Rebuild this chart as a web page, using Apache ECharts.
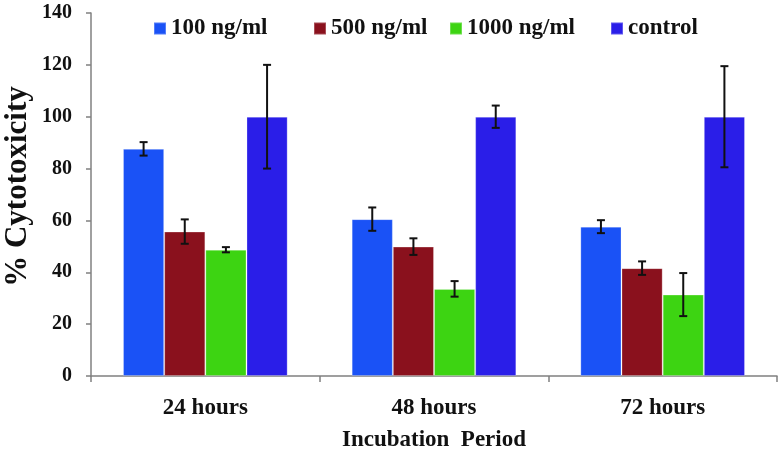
<!DOCTYPE html>
<html>
<head>
<meta charset="utf-8">
<script src="https://cdn.jsdelivr.net/npm/echarts@6/dist/echarts.min.js"></script>
<style>html,body{margin:0;padding:0;background:#fff}#c{width:782px;height:451px}</style>
</head>
<body>
<div id="c"></div>
<script>
const categories = ['24 hours', '48 hours', '72 hours'];
const seriesNames = ['100 ng/ml', '500 ng/ml', '1000 ng/ml', 'control'];
const v100 = [87.6, 60.5, 57.6];
const v500 = [55.7, 49.9, 41.6];
const v1000 = [48.7, 33.6, 31.4];
const vControl = [100, 100, 100];
const e100 = [2.6, 4.5, 2.5];
const e500 = [4.7, 3.2, 2.6];
const e1000 = [1.0, 3.0, 8.3];
const eControl = [20, 4.3, 19.5];
const yTicks = [0, 20, 40, 60, 80, 100, 120, 140];

const colors = ['#1a52f6', '#8a111d', '#3dd412', '#2a1ee8'];
const FONT = "'Liberation Serif', 'Times New Roman', serif";
const values = [v100, v500, v1000, vControl];
const errs = [e100, e500, e1000, eControl];
const CAT_GAP = 0.28;
const legendLefts = [153, 313, 449, 610];

const errData = [];
values.forEach((arr, s) => arr.forEach((v, c) => {
  errData.push([c, v - errs[s][c], v + errs[s][c], s]);
}));

const chart = echarts.init(document.getElementById('c'));
const series = seriesNames.map((n, i) => ({
  name: n, type: 'bar', data: values[i],
  barGap: '0%', barCategoryGap: (CAT_GAP * 100) + '%',
  itemStyle: { color: colors[i], borderColor: 'rgba(255,255,255,0.25)', borderWidth: 1 }
}));
series.push({
  type: 'custom', name: 'err', z: 10, silent: true,
  data: errData,
  encode: { x: 0, y: [1, 2] },
  renderItem: function (params, api) {
    const c = api.value(0), lo = api.value(1), hi = api.value(2), s = api.value(3);
    const w = api.size([1, 0])[0];
    const bw = w * (1 - CAT_GAP) / 4;
    const off = -w * (1 - CAT_GAP) / 2 + (s + 0.5) * bw;
    const p1 = api.coord([c, lo]), p2 = api.coord([c, hi]);
    const x = p1[0] + off, cap = 4;
    const st = { stroke: '#111', lineWidth: 2 };
    return { type: 'group', children: [
      { type: 'line', shape: { x1: x, y1: p1[1], x2: x, y2: p2[1] }, style: st },
      { type: 'line', shape: { x1: x - cap, y1: p1[1], x2: x + cap, y2: p1[1] }, style: st },
      { type: 'line', shape: { x1: x - cap, y1: p2[1], x2: x + cap, y2: p2[1] }, style: st }
    ]};
  }
});

const legends = seriesNames.map((n, i) => ({
  data: [n], left: legendLefts[i], top: 17, icon: 'rect',
  itemWidth: 12, itemHeight: 12, padding: 0,
  textStyle: { fontFamily: FONT, fontWeight: 'bold', fontSize: 23, color: '#111' }
}));

chart.setOption({
  animation: false,
  backgroundColor: '#fff',
  color: colors,
  legend: legends,
  grid: { left: 91, right: 5, top: 13, bottom: 75, containLabel: false, outerBoundsMode: 'none' },
  xAxis: {
    type: 'category', data: categories,
    axisLine: { lineStyle: { color: '#808080', width: 1.5 } },
    axisTick: { show: true, length: 6, lineStyle: { color: '#808080', width: 1.5 } },
    axisLabel: { fontFamily: FONT, fontWeight: 'bold', fontSize: 23, color: '#111', margin: 21 },
    name: 'Incubation  Period', nameLocation: 'middle', nameGap: 53, nameMoveOverlap: false,
    nameTextStyle: { fontFamily: FONT, fontWeight: 'bold', fontSize: 23, color: '#111' }
  },
  yAxis: {
    type: 'value', min: yTicks[0], max: yTicks[yTicks.length - 1], interval: 20,
    splitLine: { show: false },
    axisLine: { show: true, lineStyle: { color: '#808080', width: 1.5 } },
    axisTick: { show: true, length: 5, lineStyle: { color: '#808080', width: 1.5 } },
    axisLabel: { fontFamily: FONT, fontWeight: 'bold', fontSize: 20, color: '#111', margin: 19 },
    name: '% Cytotoxicity', nameLocation: 'middle', nameGap: 58, nameMoveOverlap: false,
    nameTextStyle: { fontFamily: FONT, fontWeight: 'bold', fontSize: 31, color: '#111', padding: [0, 0, 0, 16] }
  },
  series: series
});
</script>
</body>
</html>
